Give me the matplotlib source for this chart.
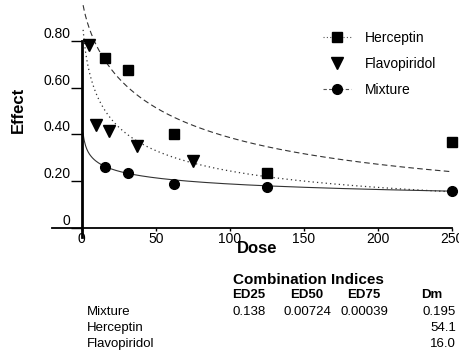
import numpy as np
import matplotlib
matplotlib.use("Agg")
import matplotlib.pyplot as plt
from matplotlib.lines import Line2D

plt.rcParams['font.family'] = ['Liberation Sans', 'DejaVu Sans']

# measured points
dose_hm = [15.625, 31.25, 62.5, 125, 250]
dose_fl = [4.69, 9.38, 18.75, 37.5, 75]
eff_herceptin = [0.727, 0.676, 0.404, 0.234, 0.366]
eff_flavo = [0.783, 0.442, 0.416, 0.352, 0.287]
eff_mixture = [0.260, 0.234, 0.187, 0.175, 0.158]

# median-effect fit parameters (Dm from table, slope m)
dm_herceptin, m_herceptin = 54.1, 0.75
dm_flavo, m_flavo = 16.0, 0.617
dm_mixture, m_mixture = 0.195, 0.234

# combination index table
ci_cols = ["ED25", "ED50", "ED75", "Dm"]
ci_rows = ["Mixture", "Herceptin", "Flavopiridol"]
ci_mixture = ["0.138", "0.00724", "0.00039", "0.195"]
dm_single = ["54.1", "16.0"]


def median_effect(d, dm, m):
    return 1.0 / (1.0 + (d / dm) ** m)


W, H = 459, 356
fig = plt.figure(figsize=(W / 100, H / 100), dpi=100)
ax = fig.add_axes([52 / W, 1 - 237 / H, 400 / W, 232 / H])

d = np.linspace(1, 250, 600)
ax.plot(d, median_effect(d, dm_herceptin, m_herceptin), color='#333333',
        lw=0.8, ls=(0, (5, 3)))
ax.plot(d, median_effect(d, dm_flavo, m_flavo), color='#333333',
        lw=0.9, ls=(0, (1, 2.5)))
ax.plot(d, median_effect(d, dm_mixture, m_mixture), color='#333333', lw=0.8)

ax.plot(dose_hm, eff_herceptin, 's', color='black', ms=7.5, clip_on=False)
ax.plot(dose_fl, eff_flavo, 'v', color='black', ms=8, clip_on=False)
ax.plot(dose_hm, eff_mixture, 'o', color='black', ms=7, clip_on=False)

ax.set_xlim(-20, 250)
ax.set_ylim(-0.038, 0.953)

for s in ['top', 'right']:
    ax.spines[s].set_visible(False)
ax.spines['left'].set_position(('data', 0))
ax.spines['left'].set_bounds(-0.04, 0.80)
ax.spines['left'].set_linewidth(2)
ax.spines['bottom'].set_position(('data', 0))
ax.spines['bottom'].set_bounds(-20, 250)
ax.spines['bottom'].set_linewidth(1.3)

ax.set_yticks([0, 0.2, 0.4, 0.6, 0.8])
ax.set_yticklabels(['0', '0.20', '0.40', '0.60', '0.80'], fontsize=10)
ax.tick_params(axis='y', direction='out', length=8, width=1, pad=0)
for lab in ax.get_yticklabels():
    lab.set_va('bottom')
ax.set_xticks([0, 50, 100, 150, 200, 250])
ax.tick_params(axis='x', direction='out', length=2, width=1, pad=0.5,
               labelsize=10)

ax.set_ylabel("Effect", fontsize=12, fontweight='bold')
ax.yaxis.set_label_coords(-0.065, 0.55)
ax.set_xlabel("Dose", fontsize=12, fontweight='bold', va='center')
ax.xaxis.set_label_coords(0.5125, -0.05)

handles = [
    Line2D([], [], color='#555555', lw=0.8, ls=(0, (1, 2)), marker='s',
           ms=7, mfc='black', mec='black'),
    Line2D([], [], ls='none', marker='v', ms=8, color='black'),
    Line2D([], [], color='#555555', lw=0.8, ls=(0, (3, 2)), marker='o',
           ms=7, mfc='black', mec='black'),
]
fig.legend(handles, ["Herceptin", "Flavopiridol", "Mixture"],
           loc='upper left', bbox_to_anchor=(316 / W, 1 - 24 / H),
           frameon=False, fontsize=10, handlelength=2.0,
           handletextpad=1.0, labelspacing=0.85, borderpad=0)


# combination indices table
def fy(py):
    return 1 - py / H


fig.text(308 / W, fy(280), "Combination Indices", ha='center', va='center',
         fontsize=11, fontweight='bold')
col_x = [249, 307, 364, 432]
for x, c in zip(col_x, ci_cols):
    fig.text(x / W, fy(295), c, ha='center', va='center', fontsize=9.5,
             fontweight='bold')
row_y = [312, 328, 344]
for y, r in zip(row_y, ci_rows):
    fig.text(87 / W, fy(y), r, ha='left', va='center', fontsize=9.5)
for x, v in zip(col_x[:3], ci_mixture[:3]):
    fig.text(x / W, fy(row_y[0]), v, ha='center', va='center', fontsize=9.5)
fig.text(456 / W, fy(row_y[0]), ci_mixture[3], ha='right', va='center',
         fontsize=9.5)
for y, v in zip(row_y[1:], dm_single):
    fig.text(456 / W, fy(y), v, ha='right', va='center', fontsize=9.5)

fig.savefig("out.png", dpi=100)
